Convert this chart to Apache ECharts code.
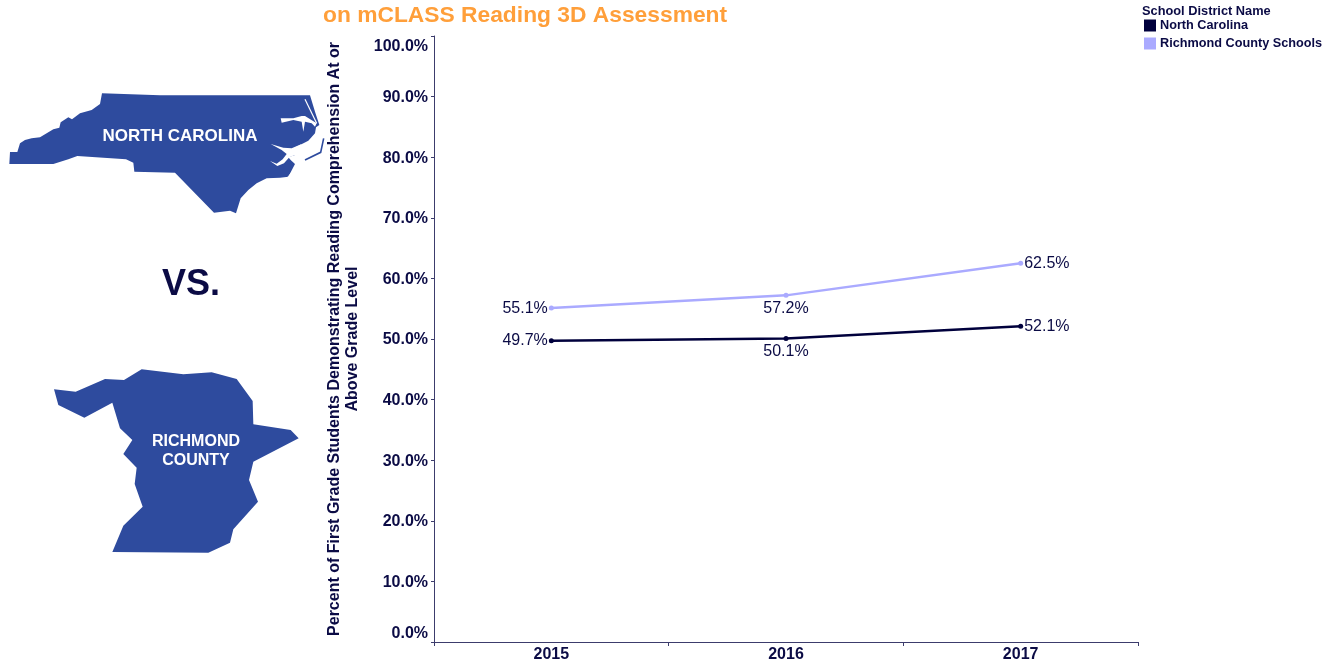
<!DOCTYPE html>
<html><head><meta charset="utf-8">
<style>html,body{margin:0;padding:0;background:#fff}#c{width:1333px;height:666px}</style>
<script src="https://cdn.jsdelivr.net/npm/echarts@6/dist/echarts.min.js"></script>
</head><body><div id="c"></div>
<script>
const years = ['2015', '2016', '2017'];
const northCarolina = [49.7, 50.1, 52.1];
const richmondCounty = [55.1, 57.2, 62.5];
const labelSides = ['left', 'bottom', 'right'];
const labelGaps = [1, 3, 1];
const seriesNames = ['North Carolina', 'Richmond County Schools'];

const ncBody = [[28,252],[30,216],[52,216],[60,190],[75,180],[95,175],[120,172],[140,160],[160,148],[178,143],[182,127],[205,112],[216,118],[240,100],[275,90],[300,72],[306,40],[480,46],[930,46],[945,95],[958,135],[948,142],[945,160],[925,182],[900,195],[875,208],[885,225],[865,232],[872,240],[885,252],[865,290],[840,293],[800,295],[770,310],[745,330],[722,355],[708,400],[690,392],[642,398],[525,278],[403,275],[400,248],[378,238],[232,228],[205,238],[160,252]];
const ncAlbemarle = [[842,115],[880,115],[905,108],[915,108],[950,130],[945,140],[935,130],[915,125],[910,155],[905,125],[880,120],[845,128]];
const ncPamlico = [[812,192],[850,203],[875,205],[905,192],[885,225],[868,232],[852,250],[832,258],[810,243],[830,251],[848,238],[860,222],[845,210]];
const ncBanksGap = [[915,58],[950,130]];
const ncBanksOuter = [[915,240],[962,217],[971,175]];
const ncBanksSouth = [[862,293],[885,266]];
const richmondBody = [[42,88],[107,95],[195,57],[252,60],[305,28],[430,43],[515,37],[590,57],[638,123],[640,193],[752,210],[776,235],[640,305],[627,360],[654,425],[580,508],[570,548],[505,578],[217,576],[250,497],[308,440],[284,372],[290,323],[250,282],[277,240],[240,205],[217,128],[133,173],[55,135]];

const toPage = (pts, ox, oy) => pts.map(p => [ox + p[0] / 3, oy + p[1] / 3]);
const ink = '#0b0b45', axisInk = '#3c3c6c', blue = '#2e4b9e', dark = '#00003c', light = '#aaaaff';
const sans = '"Liberation Sans", Arial, sans-serif';

const makeSeries = (name, values, color) => ({
  name, type: 'line', data: values.map((v, i) => ({
    value: v, label: { position: labelSides[i], distance: labelGaps[i] }
  })),
  symbol: 'circle', symbolSize: 5, smooth: false,
  lineStyle: { color, width: 2.5 }, itemStyle: { color },
  label: { show: true, color: ink, fontFamily: sans, fontSize: 16, formatter: p => p.value.toFixed(1) + '%' },
  emphasis: { disabled: true }
});
const poly = (pts, fill) => ({ type: 'polygon', shape: { points: pts }, style: { fill } });
const line = (pts, stroke, lineWidth) => ({ type: 'polyline', shape: { points: pts }, style: { stroke, lineWidth, fill: 'none' } });
const txt = (x, y, text, size, fill) => ({ type: 'text', x, y, style: { text, fill, font: 'bold ' + size + 'px ' + sans, textAlign: 'center', textVerticalAlign: 'middle', lineHeight: 19 } });

const chart = echarts.init(document.getElementById('c'));
chart.setOption({
  animation: false,
  backgroundColor: '#fff',
  title: [
    { text: 'on mCLASS Reading 3D Assessment', left: 323, top: 4, padding: 0, textStyle: { color: '#ff9f3a', fontFamily: sans, fontWeight: 'bold', fontSize: 22.8 } },
    { text: 'School District Name', left: 1142, top: 5, padding: 0, textStyle: { color: ink, fontFamily: sans, fontWeight: 'bold', fontSize: 12.8 } }
  ],
  legend: {
    orient: 'vertical', left: 1144, top: 19, itemWidth: 12, itemHeight: 12, itemGap: 5,
    icon: 'rect', data: seriesNames,
    textStyle: { color: ink, fontFamily: sans, fontWeight: 'bold', fontSize: 12.7, padding: [3, 0, 0, -1] },
    padding: 0
  },
  grid: { left: 434, right: 195, top: 36, bottom: 24 },
  xAxis: {
    type: 'category', data: years, boundaryGap: true,
    axisLine: { lineStyle: { color: axisInk, width: 1 } },
    axisTick: { show: true, length: 4, alignWithLabel: false, lineStyle: { color: axisInk } },
    axisLabel: { color: ink, fontFamily: sans, fontWeight: 'bold', fontSize: 16, margin: 5 }
  },
  yAxis: {
    type: 'value', min: 0, max: 100, interval: 10,
    name: 'Percent of First Grade Students Demonstrating Reading Comprehension At or\nAbove Grade Level',
    nameLocation: 'middle', nameGap: 72, nameRotate: 90,
    nameTextStyle: { color: ink, fontFamily: sans, fontWeight: 'bold', fontSize: 16, lineHeight: 18 },
    splitLine: { show: false },
    axisLine: { show: true, lineStyle: { color: axisInk, width: 1 } },
    axisTick: { show: true, length: 3, lineStyle: { color: axisInk } },
    axisLabel: {
      color: ink, fontFamily: sans, fontWeight: 'bold', fontSize: 16, margin: 6, padding: [2, 0, 0, 0],
      formatter: v => v === 100 ? '{top|' + v.toFixed(1) + '%}' : v.toFixed(1) + '%',
      rich: { top: { color: ink, fontFamily: sans, fontWeight: 'bold', fontSize: 16, padding: [1, 0, 0, 0] } },
      verticalAlignMinLabel: 'bottom', verticalAlignMaxLabel: 'top'
    }
  },
  series: [
    makeSeries(seriesNames[0], northCarolina, dark),
    makeSeries(seriesNames[1], richmondCounty, light)
  ],
  graphic: [
    poly(toPage(ncBody, 0, 80), blue),
    poly(toPage(ncAlbemarle, 0, 80), '#fff'),
    poly(toPage(ncPamlico, 0, 80), '#fff'),
    line(toPage(ncBanksGap, 0, 80), '#fff', 1.2),
    line(toPage(ncBanksOuter, 0, 80), blue, 1.6),
    line(toPage(ncBanksSouth, 0, 80), '#fff', 1),
    poly(toPage(richmondBody, 40, 360), blue),
    txt(180, 136, 'NORTH CAROLINA', 17, '#fff'),
    txt(196, 451, 'RICHMOND\nCOUNTY', 16, '#fff'),
    txt(191, 285, 'VS.', 36, ink)
  ]
});
</script></body></html>
